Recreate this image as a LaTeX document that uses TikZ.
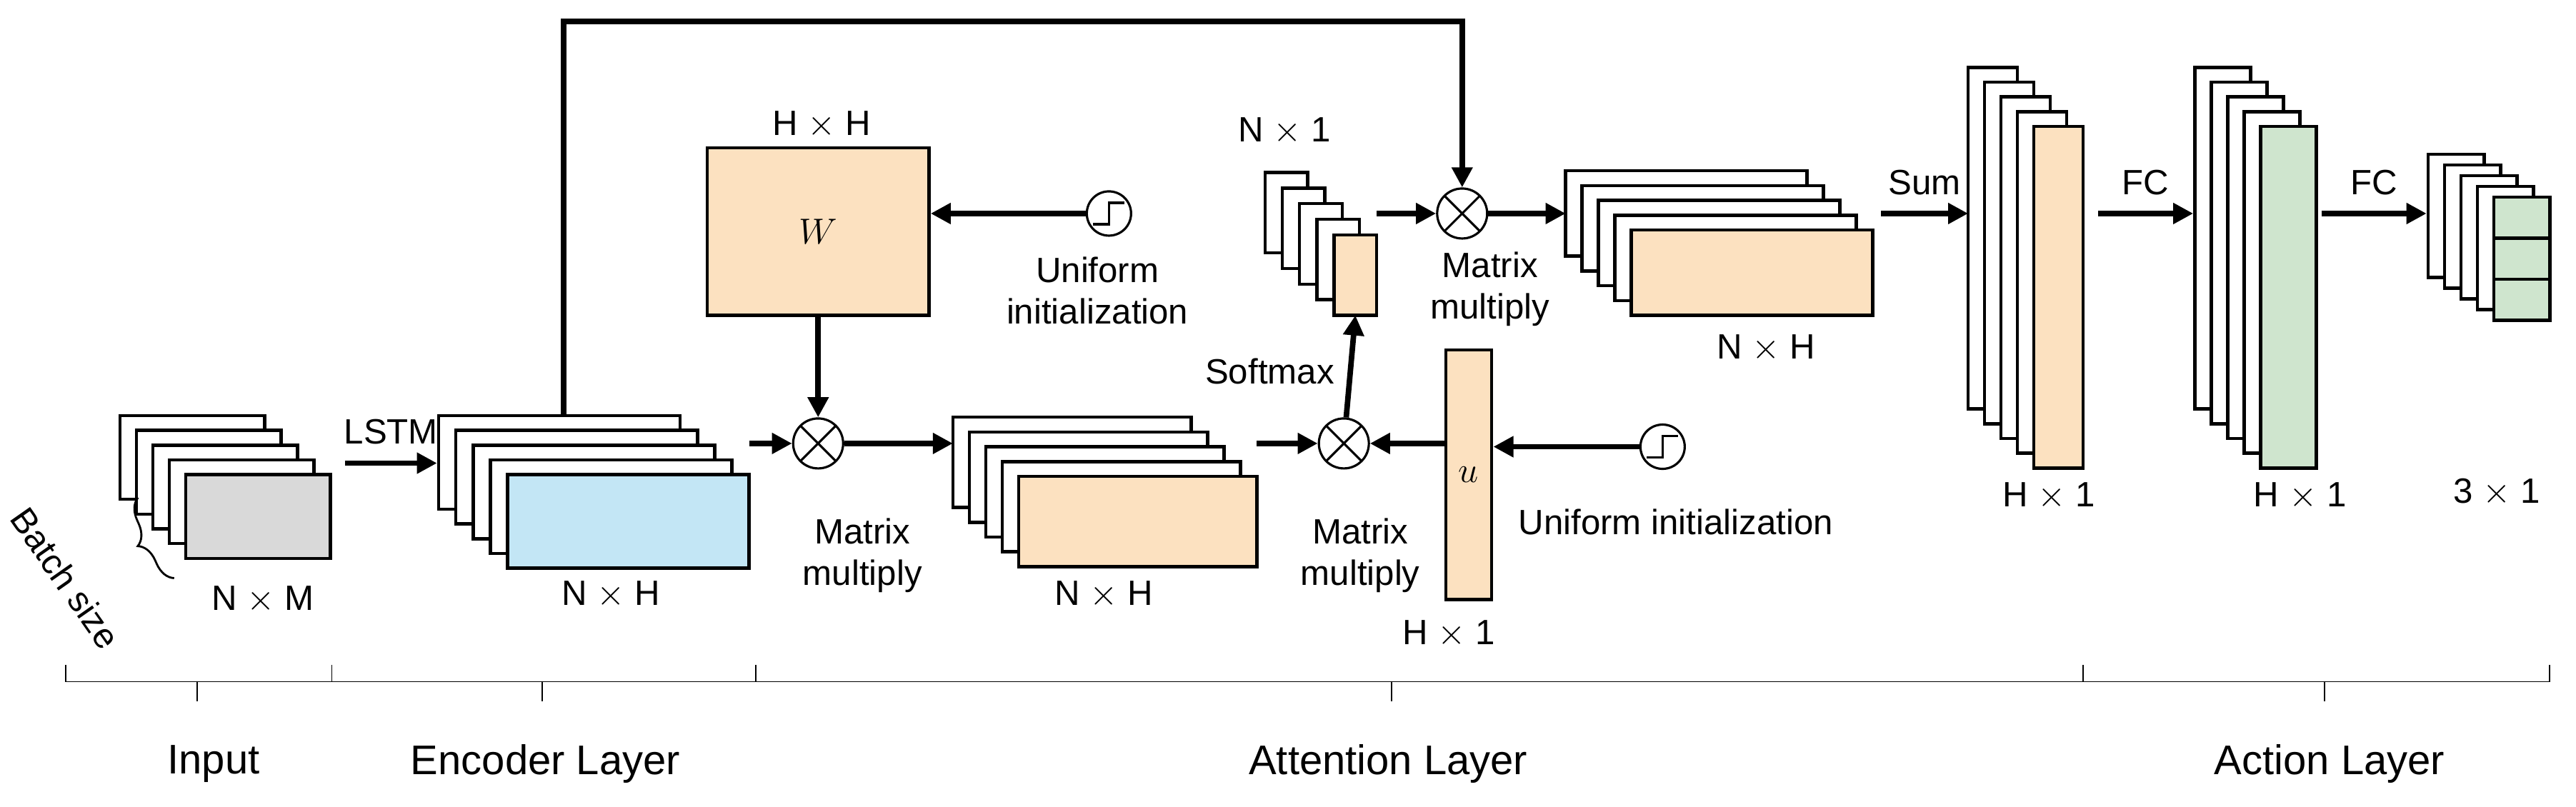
\documentclass[tikz,border=0pt]{standalone}
\usepackage{fontspec}
\setmainfont{Liberation Sans}
\usetikzlibrary{arrows.meta,decorations.pathreplacing}
\definecolor{ingray}{HTML}{D9D9D9}
\definecolor{encblue}{HTML}{C3E6F5}
\definecolor{attorange}{HTML}{FCE1C0}
\definecolor{actgreen}{HTML}{CFE5CE}
\tikzset{
  layer/.style={draw=black, fill=white, line width=1.3pt},
  arr/.style={line width=2.2pt, -{Triangle[length=8pt,width=8pt]}},
  lbl/.style={font=\fontsize{14}{16.5}\selectfont},
  mult/.style={circle, draw, line width=0.9pt, minimum size=7mm, inner sep=0pt,
    path picture={\draw[line width=0.9pt] (path picture bounding box.north west) -- (path picture bounding box.south east)
      (path picture bounding box.north east) -- (path picture bounding box.south west);}},
  init/.style={circle, draw, line width=0.9pt, minimum size=6.2mm, inner sep=0pt,
    path picture={\draw[line width=0.9pt] ([xshift=-2.2mm,yshift=-1.5mm]path picture bounding box.center) -| ([yshift=1.5mm]path picture bounding box.center) -- ++(2.2mm,0);}}
}
% stack of layers: name, x, y, width, height, dx, dy, colour
\newcommand\layerstack[8]{%
  \foreach \k in {4,3,2,1}
    \draw[layer] ({#2-\k*#6},{#3-\k*#7}) rectangle ++(#4,#5);
  \node[layer, fill=#8, anchor=north west, inner sep=0pt, outer sep=0pt,
    minimum width={#4*0.23mm}, minimum height={#5*0.23mm}] (#1) at (#2,#3) {};}
\begin{document}
\begin{tikzpicture}[x=0.23mm, y=-0.23mm]
  \useasboundingbox (0,0) rectangle (1568,491);

  % Input
  \layerstack{inp}{113}{289}{88}{51}{10}{9}{ingray}
  \node[lbl] at (160,365) {N $\times$ M};
  \draw[line width=0.8pt, decorate, decoration={brace, amplitude=8pt}] (106,352) -- (84,303);
  \node[lbl, rotate=-55] at (40,352) {Batch size};

  % Encoder
  \layerstack{enc}{309}{289}{147}{57}{10.5}{9}{encblue}
  \node[lbl] at (372,362) {N $\times$ H};
  \draw[arr] ([xshift=9*0.23mm]inp.east |- 0,282) -- node[lbl, above=3pt] {LSTM} ([xshift=-43*0.23mm]enc.west |- 0,282);
  \coordinate (encTop) at (343,253);

  % Attention: W branch
  \node[mult] (m1) at (498,270) {};
  \node[lbl, align=center] at (525,338) {Matrix\\multiply};
  \node[layer, fill=attorange, minimum width={135*0.23mm}, minimum height={102*0.23mm}] (W) at (498,141) {\Large$W$};
  \node[lbl] at (500,76) {H $\times$ H};
  \node[init] (i1) at (675,130) {};
  \node[lbl, align=center] at (668,177) {Uniform\\initialization};
  \draw[arr] (i1) -- (W.east |- i1);
  \draw[arr] (W) -- (m1);
  \draw[arr] (enc.east |- m1) -- (m1);

  \layerstack{s2}{620}{290}{145}{55}{10}{9}{attorange}
  \node[lbl] at (672,362) {N $\times$ H};
  \draw[arr] (m1) -- ([xshift=-40*0.23mm]s2.west |- m1);

  % u branch
  \node[mult] (m2) at (818,270) {};
  \node[lbl, align=center] at (828,338) {Matrix\\multiply};
  \node[layer, fill=attorange, minimum width={28*0.23mm}, minimum height={152*0.23mm}] (u) at (894,289) {\Large$u$};
  \node[lbl] at (882,386) {H $\times$ 1};
  \node[init] (i2) at (1012,272) {};
  \node[lbl] at (1020,318) {Uniform initialization};
  \draw[arr] (i2) -- (u.east |- i2);
  \draw[arr] (u.west |- m2) -- (m2);
  \draw[arr] (s2.east |- m2) -- (m2);

  % softmax weights
  \layerstack{sm}{812}{143}{26}{49}{10.5}{9.5}{attorange}
  \node[lbl] at (782,80) {N $\times$ 1};
  \draw[arr] (m2) -- node[lbl, left=2pt, pos=0.45] {Softmax} (sm.south);

  \node[mult] (m3) at (890,130) {};
  \node[lbl, align=center] at (907,176) {Matrix\\multiply};
  \draw[arr] (sm.east |- m3) -- (m3);
  \draw[arr] (encTop) -- (343,13) -| (m3);

  \layerstack{s3}{993}{140}{147}{52}{10}{9}{attorange}
  \node[lbl] at (1075,212) {N $\times$ H};
  \draw[arr] (m3) -- ([xshift=-40*0.23mm]s3.west |- m3);

  % Action
  \layerstack{sum}{1238}{77}{30}{208}{10}{9}{attorange}
  \node[lbl] at (1247,302) {H $\times$ 1};
  \draw[arr] ([xshift=5*0.23mm]s3.east |- 0,130) -- node[lbl, above=3pt] {Sum} ([xshift=-40*0.23mm]sum.west |- 0,130);

  \layerstack{fc}{1376}{77}{34}{208}{10}{9}{actgreen}
  \node[lbl] at (1400,302) {H $\times$ 1};
  \draw[arr] ([xshift=9*0.23mm]sum.east |- 0,130) -- node[lbl, above=3pt] {FC} ([xshift=-41*0.23mm]fc.west |- 0,130);

  \layerstack{out}{1518}{120}{34}{75}{10}{6.5}{actgreen}
  \draw[layer] (1518,145) -- (1552,145) (1518,170) -- (1552,170);
  \node[lbl] at (1520,300) {3 $\times$ 1};
  \draw[arr] ([xshift=3*0.23mm]fc.east |- 0,130) -- node[lbl, above=3pt] {FC} ([xshift=-41*0.23mm]out.west |- 0,130);

  % Layer brackets
  \draw[line width=0.5pt] (40,405) -- (40,415) -- (1552,415) -- (1552,405)
    (202,405) -- (202,415) (460,405) -- (460,415) (1268,405) -- (1268,415)
    (120,415) -- (120,427) (330,415) -- (330,427) (847,415) -- (847,427) (1415,415) -- (1415,427);
  \node[font=\fontsize{16.5}{19}\selectfont] at (130,465) {Input};
  \node[font=\fontsize{16.5}{19}\selectfont] at (332,465) {Encoder Layer};
  \node[font=\fontsize{16.5}{19}\selectfont] at (845,465) {Attention Layer};
  \node[font=\fontsize{16.5}{19}\selectfont] at (1418,465) {Action Layer};
\end{tikzpicture}
\end{document}
